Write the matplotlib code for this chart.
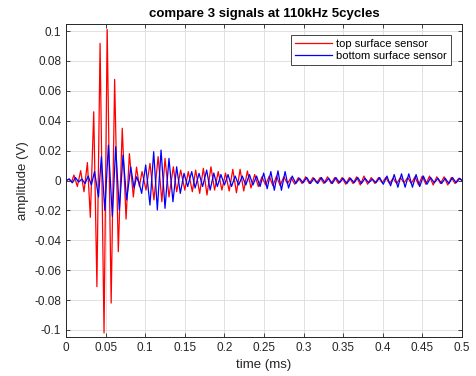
import matplotlib
matplotlib.use('Agg')
import matplotlib.pyplot as plt

# peak times (ms) and peak values (V)
top_t = [0, 0.004, 0.007, 0.010, 0.0143, 0.0185, 0.0227, 0.027, 0.0307, 0.035, 0.039,
         0.043, 0.048, 0.052, 0.057, 0.0614, 0.066, 0.071, 0.0758, 0.080, 0.085,
         0.089, 0.0926, 0.096, 0.101, 0.106, 0.111, 0.1163, 0.121, 0.125, 0.130,
         0.1355, 0.1397, 0.1448, 0.150, 0.1544, 0.1595, 0.1637, 0.1688, 0.1734, 0.178,
         0.183, 0.1876, 0.1922, 0.1968, 0.2014, 0.206, 0.2106, 0.2152, 0.2198, 0.2244,
         0.229, 0.2336, 0.2382, 0.2428, 0.2474, 0.252, 0.2566, 0.2612, 0.2658, 0.2704,
         0.275, 0.2796, 0.2842, 0.2888, 0.2934, 0.298, 0.3026, 0.3072, 0.3118, 0.3164,
         0.321, 0.3256, 0.3302, 0.3348, 0.3394, 0.344, 0.3486, 0.3532, 0.3578, 0.3624,
         0.367, 0.3716, 0.3762, 0.3808, 0.3854, 0.39, 0.3946, 0.3992, 0.4038, 0.4084,
         0.413, 0.4176, 0.4222, 0.4268, 0.4314, 0.436, 0.4406, 0.4452, 0.4498, 0.4544,
         0.459, 0.4636, 0.4682, 0.4728, 0.4774, 0.482, 0.4866, 0.4912, 0.4958, 0.5]
top_v = [0, 0.001, -0.001, 0.0037, -0.004, 0.0066, -0.0075, 0.012, -0.0246, 0.046, -0.071,
         0.0918, -0.102, 0.101, -0.082, 0.0677, -0.0476, 0.035, -0.0258, 0.018, -0.011,
         0.009, -0.004, 0.006, -0.0064, 0.0115, -0.013, 0.016, -0.0142, 0.0148, -0.011,
         0.0092, -0.0075, 0.007, -0.0064, 0.006, -0.0075, 0.007, -0.0086, 0.0082, -0.0097,
         0.0092, -0.0064, 0.006, -0.0064, 0.005, -0.007, 0.0075, -0.0082, 0.0075, -0.007,
         0.0064, -0.005, 0.004, -0.004, 0.0025, -0.003, 0.003, -0.0035, 0.003, -0.0035,
         0.0025, -0.002, 0.002, -0.0025, 0.002, -0.002, 0.0025, -0.002, 0.002, -0.0015,
         0.002, -0.002, 0.0025, -0.002, 0.002, -0.002, 0.002, -0.0025, 0.002, -0.002,
         0.0025, -0.003, 0.003, -0.0025, 0.002, -0.002, 0.002, -0.0015, 0.002, -0.002,
         0.0015, -0.002, 0.002, -0.0015, 0.002, -0.002, 0.0025, -0.003, 0.003, -0.0025,
         0.003, -0.003, 0.0025, -0.002, 0.0025, -0.003, 0.002, -0.002, 0.0015, 0.0]

bottom_t = [0, 0.004, 0.008, 0.012, 0.016, 0.020, 0.024, 0.028, 0.032, 0.036, 0.041,
            0.0446, 0.049, 0.0535, 0.0585, 0.0627, 0.0673, 0.072, 0.0766, 0.0817, 0.0859,
            0.089, 0.0925, 0.0955, 0.1006, 0.106, 0.1107, 0.1153, 0.120, 0.125, 0.130,
            0.135, 0.1397, 0.1443, 0.149, 0.1536, 0.1587, 0.163, 0.168, 0.1725, 0.1776,
            0.182, 0.1866, 0.191, 0.1956, 0.200, 0.2046, 0.209, 0.2136, 0.218, 0.2226,
            0.227, 0.2316, 0.236, 0.2406, 0.245, 0.2496, 0.254, 0.2586, 0.263, 0.2676,
            0.272, 0.2766, 0.281, 0.2856, 0.2902, 0.2948, 0.2994, 0.304, 0.3086, 0.3132,
            0.3178, 0.3224, 0.327, 0.3316, 0.3362, 0.3408, 0.3454, 0.35, 0.3546, 0.3592,
            0.3638, 0.3684, 0.373, 0.3776, 0.3822, 0.3868, 0.3914, 0.396, 0.4006, 0.4052,
            0.4098, 0.4144, 0.419, 0.4236, 0.4282, 0.4328, 0.4374, 0.442, 0.4466, 0.4512,
            0.4558, 0.4604, 0.465, 0.4696, 0.4742, 0.4788, 0.4834, 0.488, 0.4926, 0.4972, 0.5]
bottom_v = [0, 0.001, -0.0015, 0.002, -0.001, 0.001, -0.002, 0.003, -0.003, 0.006, -0.011,
            0.016, -0.020, 0.0237, -0.024, 0.0226, -0.0197, 0.017, -0.013, 0.009, -0.005,
            0.0025, -0.002, -0.0086, 0.0104, -0.0164, 0.0193, -0.0197, 0.0204, -0.0186, 0.0148,
            -0.0142, 0.0092, -0.0086, 0.0048, -0.004, 0.006, -0.005, 0.0048, -0.004, 0.007,
            -0.0064, 0.005, -0.004, 0.004, -0.003, 0.004, -0.004, 0.003, -0.003, 0.003,
            -0.003, 0.004, -0.003, 0.003, -0.004, 0.005, -0.0055, 0.006, -0.0065, 0.0065,
            -0.0065, 0.006, -0.005, 0.003, -0.002, 0.0015, -0.0015, 0.002, -0.002, 0.0015,
            -0.002, 0.002, -0.0015, 0.0015, -0.002, 0.002, -0.0015, 0.0015, -0.002, 0.0015,
            -0.0015, 0.002, -0.002, 0.0015, -0.0015, 0.001, -0.0015, 0.002, -0.0025, 0.003,
            -0.0035, 0.004, -0.0045, 0.0045, -0.0045, 0.0045, -0.0045, 0.004, -0.004, 0.003,
            -0.0025, 0.002, -0.0015, 0.0015, -0.002, 0.0015, -0.002, 0.002, -0.0015, 0.0015, 0.0]

xticks = [0, 0.05, 0.1, 0.15, 0.2, 0.25, 0.3, 0.35, 0.4, 0.45, 0.5]
xticklabels = ['0', '0.05', '0.1', '0.15', '0.2', '0.25', '0.3', '0.35', '0.4', '0.45', '0.5']
yticks = [-0.1, -0.08, -0.06, -0.04, -0.02, 0, 0.02, 0.04, 0.06, 0.08, 0.1]
yticklabels = ['-0.1', '-0.08', '-0.06', '-0.04', '-0.02', '0', '0.02', '0.04', '0.06', '0.08', '0.1']

plt.rcParams['font.family'] = ['Liberation Sans', 'DejaVu Sans']

fig = plt.figure(figsize=(4.76, 3.76), dpi=100)
ax = fig.add_axes([0.1387, 0.1037, 0.8319, 0.8323])

ax.plot(top_t, top_v, color='#ff0000', linewidth=0.9, solid_joinstyle='round',
        label='top surface sensor')
ax.plot(bottom_t, bottom_v, color='#0000ff', linewidth=0.9, solid_joinstyle='round',
        label='bottom surface sensor')

ax.set_xlim(0, 0.5)
ax.set_ylim(-0.1047, 0.1047)
ax.set_xticks(xticks)
ax.set_xticklabels(xticklabels)
ax.set_yticks(yticks)
ax.set_yticklabels(yticklabels)
ax.grid(True, color='#dcdcdc', linewidth=0.6)
ax.set_axisbelow(True)
ax.tick_params(direction='in', length=3, width=0.6, colors='#262626', labelsize=8.5,
               top=True, right=True, labelcolor='#262626')
for s in ax.spines.values():
    s.set_color('#262626')
    s.set_linewidth(0.7)

ax.set_title('compare 3 signals at 110kHz 5cycles', fontsize=9.5, fontweight='bold', pad=5)
ax.set_xlabel('time (ms)', fontsize=9.5, color='#262626')
ax.set_ylabel('amplitude (V)', fontsize=9.5, color='#262626')

leg = ax.legend(loc='upper right', fontsize=8, fancybox=False, framealpha=1,
                edgecolor='#262626', handlelength=3.4, handletextpad=0.35,
                borderaxespad=1.0, borderpad=0.35, labelspacing=0.2)
leg.get_frame().set_linewidth(0.6)

fig.savefig('out.png', dpi=100)
